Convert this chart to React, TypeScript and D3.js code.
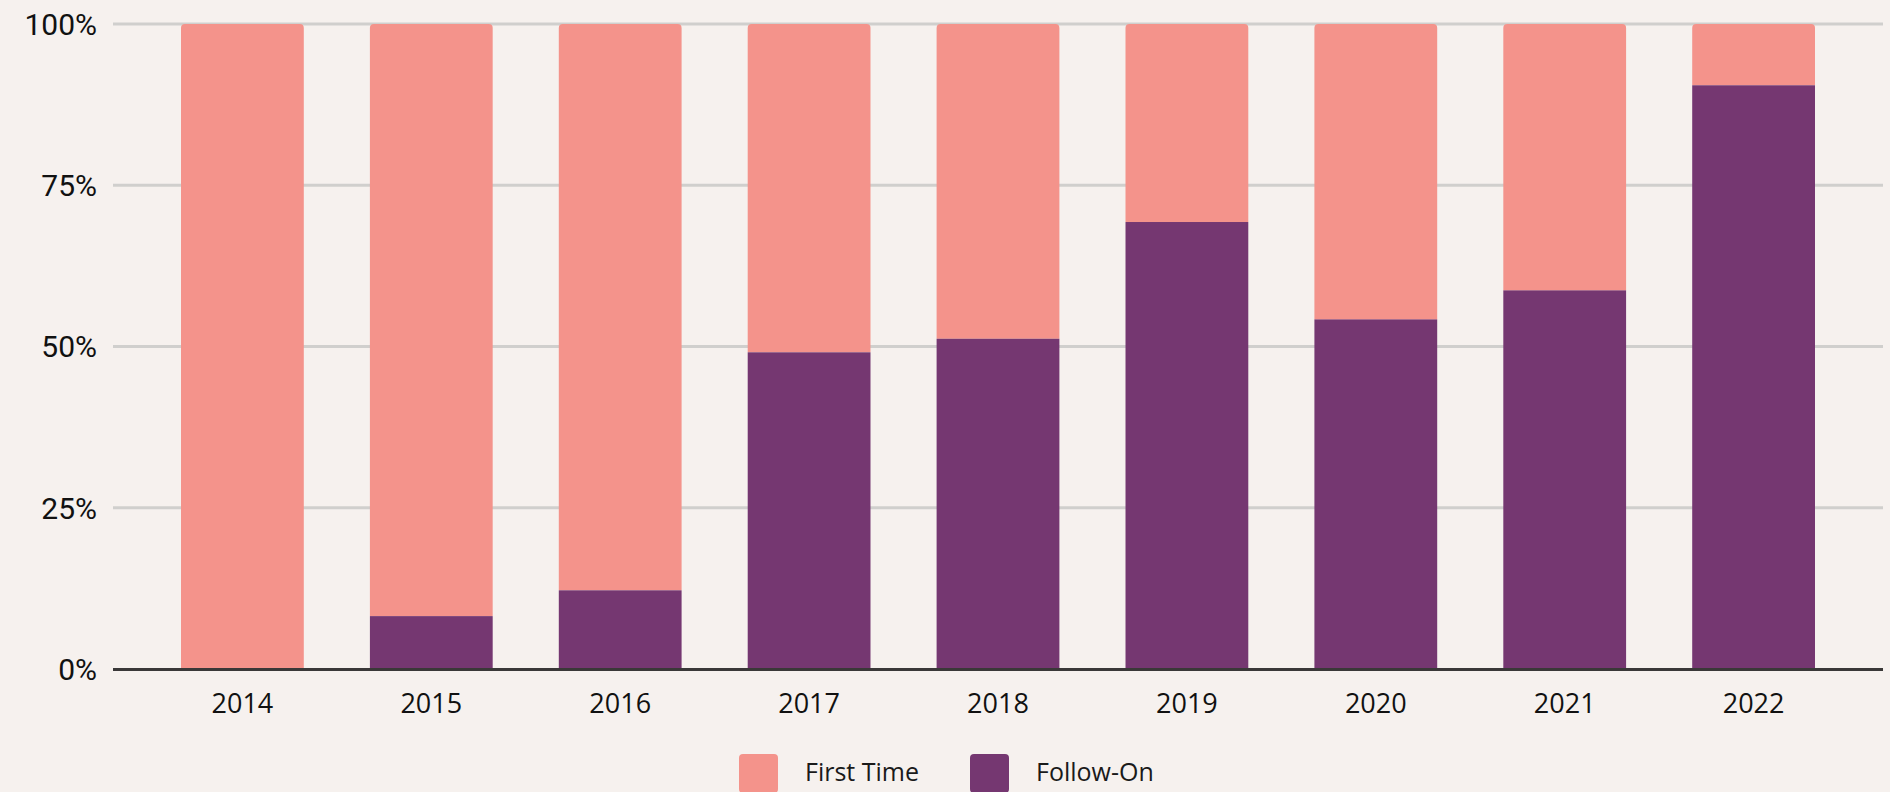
import React, { useEffect, useRef } from 'react';
import * as d3 from 'd3';

const years = ['2014', '2015', '2016', '2017', '2018', '2019', '2020', '2021', '2022'];
const followOn = [0, 8.2, 12.2, 49.1, 51.2, 69.3, 54.2, 58.7, 90.5];
const yTicks = [0, 25, 50, 75, 100];
const seriesNames = ['First Time', 'Follow-On'];
const seriesColors = ['#f4938b', '#753771'];

const W = 1890;
const H = 792;

const topRounded = (x: number, y: number, w: number, h: number, r: number) =>
  `M${x},${y + h}V${y + r}Q${x},${y} ${x + r},${y}H${x + w - r}Q${x + w},${y} ${x + w},${y + r}V${y + h}Z`;

export default function App() {
  const ref = useRef<SVGSVGElement>(null);

  useEffect(() => {
    const svg = d3.select(ref.current);
    svg.selectAll('*').remove();

    const x = d3.scaleBand().domain(years).range([113, 1883]).paddingInner(0.35).paddingOuter(0.36);
    const y = d3.scaleLinear().domain([0, 100]).range([669, 24]);

    svg.append('rect').attr('width', W).attr('height', H).attr('fill', '#f6f1ee');

    // gridlines
    svg.append('g')
      .selectAll('line')
      .data(yTicks.filter(t => t > 0))
      .enter()
      .append('line')
      .attr('x1', 113).attr('x2', 1883)
      .attr('y1', d => y(d)).attr('y2', d => y(d))
      .attr('stroke', '#d0cfcd').attr('stroke-width', 3);

    // y labels
    svg.append('g')
      .selectAll('text')
      .data(yTicks)
      .enter()
      .append('text')
      .attr('x', 97)
      .attr('y', d => y(d))
      .attr('dy', '0.36em')
      .attr('text-anchor', 'end')
      .style('font-family', 'Roboto, sans-serif')
      .style('font-size', '30px')
      .attr('fill', '#111')
      .text(d => `${d}%`);

    const bw = x.bandwidth();
    const bars = svg.append('g');
    years.forEach((yr, i) => {
      const x0 = x(yr) as number;
      const f = followOn[i];
      // first time (top) segment
      bars.append('path')
        .attr('d', topRounded(x0, y(100), bw, y(f) - y(100), 4))
        .attr('fill', seriesColors[0]);
      if (f > 0) {
        bars.append('rect')
          .attr('x', x0).attr('y', y(f))
          .attr('width', bw).attr('height', y(0) - y(f))
          .attr('fill', seriesColors[1]);
      }
    });

    // baseline
    svg.append('line')
      .attr('x1', 113).attr('x2', 1883)
      .attr('y1', y(0) + 0.5).attr('y2', y(0) + 0.5)
      .attr('stroke', '#3a3838').attr('stroke-width', 3);

    // x labels
    svg.append('g')
      .selectAll('text')
      .data(years)
      .enter()
      .append('text')
      .attr('x', d => (x(d) as number) + bw / 2)
      .attr('y', 713)
      .attr('text-anchor', 'middle')
      .style('font-family', '"Open Sans", sans-serif')
      .style('font-size', '27px')
      .attr('fill', '#111')
      .text(d => d);

    // legend
    const legendX = [739, 970];
    seriesNames.forEach((name, i) => {
      svg.append('rect')
        .attr('x', legendX[i]).attr('y', 754)
        .attr('width', 39).attr('height', 39)
        .attr('rx', 4)
        .attr('fill', seriesColors[i]);
      svg.append('text')
        .attr('x', legendX[i] + 66)
        .attr('y', 781)
        .style('font-family', '"Open Sans", sans-serif')
        .style('font-size', '25px')
        .attr('fill', '#1a1a1a')
        .text(name);
    });
  }, []);

  return (
    <div style={{ position: 'absolute', left: 0, top: 0 }}>
      <svg ref={ref} width={W} height={H} style={{ display: 'block' }} />
    </div>
  );
}
